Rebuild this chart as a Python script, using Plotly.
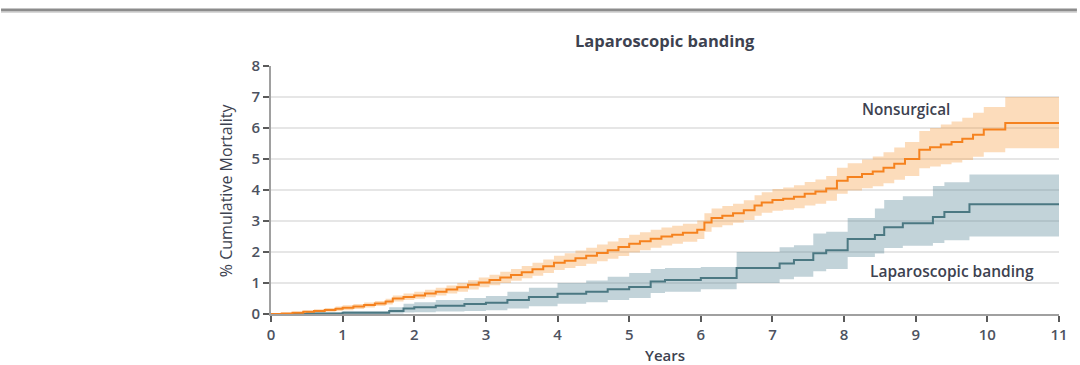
import plotly.graph_objects as go

# ---- Data ----
years_ns = [0, 0.15, 0.3, 0.45, 0.6, 0.75, 0.9, 1.0, 1.15, 1.3, 1.45, 1.6, 1.7, 1.85, 2.0,
            2.15, 2.3, 2.45, 2.6, 2.75, 2.9, 3.05, 3.2, 3.35, 3.5, 3.65, 3.8, 3.95, 4.1, 4.25,
            4.4, 4.55, 4.7, 4.85, 5.0, 5.15, 5.3, 5.45, 5.6, 5.75, 5.95, 6.05, 6.15, 6.3, 6.45,
            6.6, 6.75, 6.85, 7.0, 7.15, 7.3, 7.45, 7.6, 7.75, 7.9, 8.05, 8.25, 8.4, 8.55, 8.7,
            8.85, 9.05, 9.2, 9.35, 9.5, 9.65, 9.8, 9.95, 10.25, 11.0]
mort_ns = [0, 0.02, 0.04, 0.07, 0.1, 0.13, 0.17, 0.2, 0.24, 0.29, 0.34, 0.4, 0.5, 0.55, 0.6,
           0.66, 0.72, 0.79, 0.86, 0.94, 1.02, 1.1, 1.18, 1.26, 1.35, 1.44, 1.54, 1.65, 1.72, 1.8,
           1.88, 1.97, 2.06, 2.16, 2.27, 2.35, 2.43, 2.5, 2.56, 2.62, 2.72, 2.95, 3.1, 3.17, 3.25,
           3.35, 3.5, 3.6, 3.68, 3.72, 3.78, 3.88, 3.95, 4.05, 4.3, 4.42, 4.52, 4.6, 4.72, 4.85,
           5.0, 5.3, 5.38, 5.47, 5.55, 5.65, 5.78, 5.95, 6.16, 6.16]
lo_ns = [0, 0.0, 0.01, 0.03, 0.05, 0.07, 0.1, 0.12, 0.16, 0.21, 0.26, 0.31, 0.4, 0.45, 0.49,
         0.54, 0.6, 0.66, 0.72, 0.79, 0.86, 0.93, 1.0, 1.07, 1.15, 1.23, 1.32, 1.42, 1.48, 1.55,
         1.62, 1.7, 1.78, 1.87, 1.98, 2.06, 2.14, 2.21, 2.27, 2.33, 2.42, 2.65, 2.8, 2.86, 2.94,
         3.03, 3.17, 3.27, 3.33, 3.36, 3.41, 3.5, 3.56, 3.65, 3.88, 3.98, 4.06, 4.12, 4.22, 4.33,
         4.45, 4.7, 4.76, 4.83, 4.89, 4.97, 5.07, 5.22, 5.35, 5.35]
hi_ns = [0, 0.04, 0.07, 0.11, 0.15, 0.19, 0.24, 0.28, 0.32, 0.37, 0.42, 0.49, 0.6, 0.66, 0.72,
         0.78, 0.85, 0.92, 1.0, 1.09, 1.18, 1.27, 1.36, 1.45, 1.55, 1.65, 1.76, 1.88, 1.96, 2.05,
         2.14, 2.24, 2.34, 2.45, 2.56, 2.64, 2.72, 2.79, 2.85, 2.91, 3.02, 3.25, 3.4, 3.48, 3.56,
         3.67, 3.83, 3.93, 4.03, 4.08, 4.15, 4.26, 4.34, 4.45, 4.72, 4.86, 4.98, 5.08, 5.22, 5.37,
         5.55, 5.9, 6.0, 6.11, 6.21, 6.33, 6.49, 6.68, 7.0, 7.0]

years_lb = [0, 0.5, 1.0, 1.65, 1.85, 2.0, 2.3, 2.7, 3.0, 3.3, 3.6, 4.0, 4.4, 4.7, 5.0, 5.3, 5.5,
            6.0, 6.5, 7.1, 7.3, 7.57, 7.75, 8.05, 8.43, 8.56, 8.82, 9.24, 9.4, 9.75, 11.0]
mort_lb = [0, 0.02, 0.04, 0.1, 0.18, 0.22, 0.27, 0.32, 0.36, 0.45, 0.55, 0.65, 0.72, 0.8, 0.87,
           1.05, 1.1, 1.16, 1.48, 1.63, 1.74, 1.96, 2.06, 2.42, 2.55, 2.8, 2.93, 3.13, 3.29, 3.54, 3.54]
lo_lb = [0, 0, 0, 0.02, 0.05, 0.06, 0.08, 0.1, 0.12, 0.18, 0.25, 0.33, 0.38, 0.45, 0.52,
         0.68, 0.72, 0.8, 1.0, 1.12, 1.2, 1.38, 1.45, 1.84, 1.95, 2.13, 2.2, 2.29, 2.38, 2.5, 2.5]
hi_lb = [0, 0.05, 0.1, 0.22, 0.33, 0.38, 0.45, 0.52, 0.58, 0.72, 0.85, 1.0, 1.08, 1.2, 1.32,
         1.45, 1.48, 1.52, 2.0, 2.15, 2.22, 2.6, 2.65, 3.1, 3.4, 3.68, 3.8, 4.13, 4.25, 4.5, 4.5]

x_ticks = list(range(0, 12))
y_ticks = list(range(0, 9))

ORANGE = "#f5821f"
ORANGE_BAND = "rgba(247,150,50,0.33)"
TEAL = "#4b7882"
TEAL_BAND = "rgba(95,140,155,0.38)"
TEXT = "#3d4250"
TICK_TEXT = "#4d5260"
FONT = "Open Sans"

fig = go.Figure()

def band(x, lo, hi, color):
    fig.add_trace(go.Scatter(x=x, y=lo, mode="lines", line=dict(width=0, shape="hv"),
                             hoverinfo="skip", showlegend=False))
    fig.add_trace(go.Scatter(x=x, y=hi, mode="lines", line=dict(width=0, shape="hv"),
                             fill="tonexty", fillcolor=color, hoverinfo="skip", showlegend=False))

band(years_lb, lo_lb, hi_lb, TEAL_BAND)
band(years_ns, lo_ns, hi_ns, ORANGE_BAND)

fig.add_trace(go.Scatter(x=years_lb, y=mort_lb, mode="lines", name="Laparoscopic banding",
                         line=dict(color=TEAL, width=2, shape="hv"), showlegend=False))
fig.add_trace(go.Scatter(x=years_ns, y=mort_ns, mode="lines", name="Nonsurgical",
                         line=dict(color=ORANGE, width=2, shape="hv"), showlegend=False))

L, R, T, B = 271, 18, 66, 51
W, H = 1080, 365
pw, ph = W - L - R, H - T - B

def px2paper_x(px):
    return (px - L) / pw

def px2paper_y(py):
    return (H - B - py) / ph

axis_common = dict(zeroline=False, showline=True, linecolor="#a0a0a0", linewidth=2,
                   ticks="outside", ticklen=6, tickwidth=2, tickcolor="#5a5a5a",
                   tickfont=dict(size=15, color=TICK_TEXT, family=FONT, weight=600))

fig.update_layout(
    width=W, height=H,
    margin=dict(l=L, r=R, t=T, b=B, pad=0),
    paper_bgcolor="white", plot_bgcolor="white",
    font=dict(family=FONT, color=TICK_TEXT, size=14),
    xaxis=dict(range=[0, 11], tickvals=x_ticks, ticktext=[str(v) for v in x_ticks],
               showgrid=False, **axis_common),
    yaxis=dict(range=[0, 8], tickvals=y_ticks, ticktext=[str(v) for v in y_ticks],
               showgrid=True, gridcolor="#e6e6e6", gridwidth=2, **axis_common),
    showlegend=False,
)

def label(text, px, py, size, weight=600, angle=0, family=FONT):
    fig.add_annotation(text=text, xref="paper", yref="paper",
                       x=px2paper_x(px), y=px2paper_y(py), xanchor="center", yanchor="middle",
                       showarrow=False, textangle=angle,
                       font=dict(size=size, color=TEXT, family=family, weight=weight))

label("Laparoscopic banding", 666, 40, 16.5, weight=700)
label("Years", 666, 355, 15)
label("% Cumulative Mortality", 226, 190, 16, weight=500, angle=-90)
label("Nonsurgical", 908, 109, 15.3)
label("Laparoscopic banding", 955, 271, 15.5)

# top rule of the figure panel
fig.add_shape(type="line", xref="paper", yref="paper",
              x0=px2paper_x(0), x1=px2paper_x(W), y0=px2paper_y(10), y1=px2paper_y(10),
              line=dict(color="#8c8c8c", width=3))
fig.add_shape(type="line", xref="paper", yref="paper",
              x0=px2paper_x(0), x1=px2paper_x(W), y0=px2paper_y(12.5), y1=px2paper_y(12.5),
              line=dict(color="#d8d8d8", width=1))

fig.write_html("out.html")
